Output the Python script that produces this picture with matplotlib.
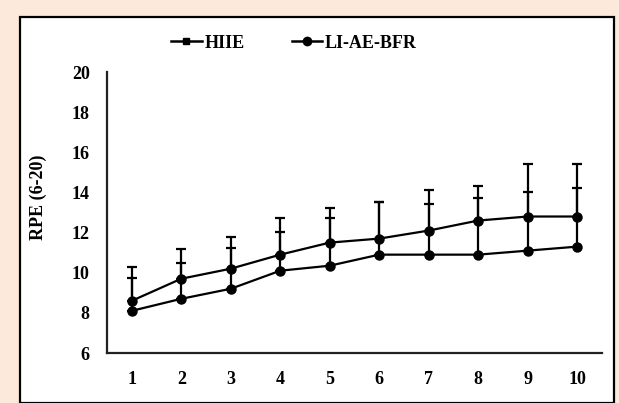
import matplotlib.pyplot as plt
import matplotlib.patches as patches
from matplotlib.lines import Line2D
import numpy as np

# sessions and RPE values
sessions = [1, 2, 3, 4, 5, 6, 7, 8, 9, 10]
hiie_mean = [8.6, 9.7, 10.2, 10.9, 11.5, 11.7, 12.1, 12.6, 12.8, 12.8]
hiie_top = [10.3, 11.2, 11.8, 12.75, 13.2, 13.5, 14.1, 14.3, 15.4, 15.4]
bfr_mean = [8.1, 8.7, 9.2, 10.1, 10.35, 10.9, 10.9, 10.9, 11.1, 11.3]
bfr_top = [9.75, 10.5, 11.25, 12.05, 12.75, 13.5, 13.4, 13.7, 14.0, 14.2]
yticks = [6, 8, 10, 12, 14, 16, 18, 20]

plt.rcParams['font.family'] = ['Liberation Serif', 'DejaVu Serif']
plt.rcParams['font.weight'] = 'bold'

fig = plt.figure(figsize=(6.19, 4.03), dpi=100, facecolor='#fce9dc')
W, H = 619, 403

# white framed panel
fig.patches.append(patches.Rectangle((20 / W, 0), (614 - 20) / W, (H - 17) / H,
                                     transform=fig.transFigure, facecolor='white',
                                     edgecolor='black', linewidth=1.6, zorder=-5))

ax = fig.add_axes([107 / W, 1 - 353 / H, (602 - 107) / W, (353 - 72) / H])
ax.set_facecolor('none')

hiie_err = np.array(hiie_top) - np.array(hiie_mean)
bfr_err = np.array(bfr_top) - np.array(bfr_mean)

ax.errorbar(sessions, hiie_mean, yerr=[np.zeros(10), hiie_err], color='black',
            lw=1.6, marker='o', ms=6.5, capsize=3.5, elinewidth=1.6, capthick=1.6)
ax.errorbar(sessions, bfr_mean, yerr=[np.zeros(10), bfr_err], color='black',
            lw=1.6, marker='o', ms=6.5, capsize=3.5, elinewidth=1.6, capthick=1.6)
ax.set_xlim(0.5, 10.5)
ax.set_ylim(6, 20)
ax.set_xticks(sessions)
ax.set_yticks(yticks)
ax.tick_params(length=0, labelsize=13)
ax.tick_params(axis='y', pad=12.5)
ax.tick_params(axis='x', pad=13)
for s in ['top', 'right']:
    ax.spines[s].set_visible(False)
for s in ['left', 'bottom']:
    ax.spines[s].set_linewidth(1.6)
    ax.spines[s].set_color('#222222')

ax.set_ylabel('RPE (6-20)', fontsize=13, fontweight='bold')
ax.yaxis.set_label_coords(-0.122, 0.555)

handles = [Line2D([], [], color='black', lw=1.8, marker='s', ms=5),
           Line2D([], [], color='black', lw=1.8, marker='o', ms=6)]
fig.legend(handles, ['HIIE', 'LI-AE-BFR'], loc='center',
           bbox_to_anchor=(0.475, 1 - 43 / H), ncol=2, frameon=False,
           fontsize=13, handlelength=1.7, handletextpad=0.15, columnspacing=2.6)

fig.savefig('out.png', dpi=100, facecolor=fig.get_facecolor())
